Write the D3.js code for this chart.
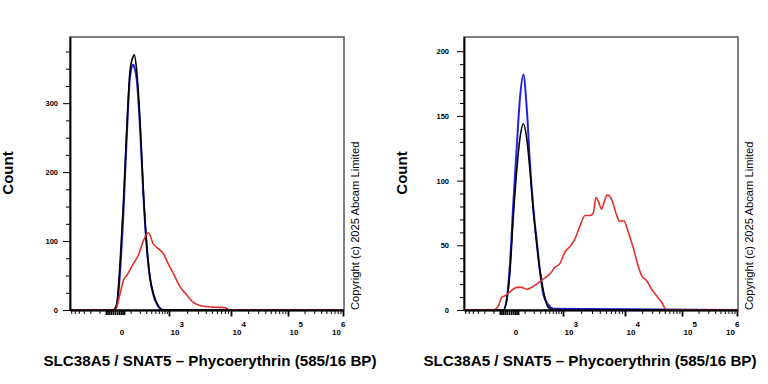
<!DOCTYPE html>
<html>
<head>
<meta charset="utf-8">
<script src="https://cdn.jsdelivr.net/npm/d3@7"></script>
<style>
  body { margin: 0; background: #fff; }
  svg { display: block; font-family: "Liberation Sans", Arial, sans-serif; }
</style>
</head>
<body>
<div id="chart"></div>
<script>
// fluorescence values (PE) and event counts

// left panel: unlabelled (black) and isotype (blue) share x positions
var leftPeakFl = [-640, -8, 8, 25, 45, 68, 95, 125, 136, 162, 204, 252, 308, 374, 450, 586, 757, 1000000];
var leftBlack  = [0, 0, 9, 67, 154, 260, 347, 368, 370, 347, 274, 173, 96, 47, 24, 6, 0, 0];
var leftBlue   = [0, 0, 5, 55, 140, 250, 338, 356, 352, 335, 265, 168, 92, 45, 22, 5, 0, 0];

// left panel: antibody stained (red)
var leftRedFl = [-640, 0, 25, 45, 68, 125, 181, 251, 339, 448, 584, 754, 967, 1183, 1530, 1971, 2523, 3233, 3886, 5600, 8045, 9640, 1000000];
var leftRed   = [0, 0, 23, 43, 50, 67, 79, 100, 112, 96, 89, 82, 67, 53, 34, 22, 11, 6.5, 5, 4, 3.5, 0, 0];

// right panel: unlabelled (black) and isotype (blue)
var rightPeakFl = [-640, -29, -11, 4.5, 21, 41, 63, 89, 119, 154, 194, 242, 296, 359, 473, 615, 1000000];
var rightBlack  = [0, 0, 7, 30, 72, 108, 133, 144, 133, 108, 77, 51, 30, 15, 2, 0, 0];
var rightBlue   = [0, 0, 8, 36, 82, 126, 164, 182, 157, 113, 79, 54, 30, 12, 4, 1, 0];

// right panel: antibody stained (red)
var rightRedFl = [-640, -101, -61, -38, -19.5, 4.5, 41, 76, 119, 174, 242, 359, 518, 671, 863, 1082, 1313, 1589, 1920, 2316,
                  2789, 3150, 3480, 3790, 4290, 4666, 5260, 5955, 6545, 7400, 8340, 9640, 10710, 12250, 14000, 16070, 19670,
                  24080, 29470, 36060, 44130, 53990, 1000000];
var rightRed   = [0, 0, 3, 10, 11, 14, 17.5, 17.5, 16, 17.5, 20, 24, 28, 33, 36, 45, 49, 55, 65, 73,
                  73, 75, 87, 84, 78, 83, 89, 87, 82, 73, 68.5, 69, 64, 56, 48, 38, 26.5,
                  22.6, 16, 11, 6, 0, 0];

// axis ticks
var xBreaks   = [-640, 0, 1000, 10000, 100000, 1000000];
var xMajor    = [1000, 10000, 100000, 1000000];
var xExponent = ['3', '4', '5', '6'];
var xZero     = [-50, -40, -30, -20, -10, 0, 10, 20, 30, 40, 50];
var xMinor    = [-600, -500, -400, -300, -200, -100,
                 100, 200, 300, 400, 500, 600, 700, 800, 900,
                 2000, 3000, 4000, 5000, 6000, 7000, 8000, 9000,
                 20000, 30000, 40000, 50000, 60000, 70000, 80000, 90000,
                 200000, 300000, 400000, 500000, 600000, 700000, 800000, 900000];

var leftYMajor  = [0, 100, 200, 300];
var leftYMinor  = [25, 50, 75, 125, 150, 175, 225, 250, 275, 325, 350, 375];
var rightYMajor = [0, 50, 100, 150, 200];
var rightYMinor = [10, 20, 30, 40, 60, 70, 80, 90, 110, 120, 130, 140, 160, 170, 180, 190];

var xTitle = 'SLC38A5 / SNAT5 \u2013 Phycoerythrin (585/16 BP)';
var copyright = 'Copyright (c) 2025 Abcam Limited';

var width = 768, height = 384;
var top_y = 37, bottom_y = 310;
var xOffsets = [0, 45, 99, 161, 218, 273];
var font_size_tick = 8;

var svg = d3.select('#chart')
    .append('svg')
        .attr('width', width)
        .attr('height', height);

function drawPanel(p) {
    var x = d3.scaleSymlog()
        .constant(100)
        .domain(xBreaks)
        .range(xOffsets.map(function(o) { return p.left + o; }));

    var y = d3.scaleLinear()
        .domain([0, p.yMax])
        .range([bottom_y, top_y]);

    // frame (top and right edges)
    svg.append('rect')
        .attr('x', p.left)
        .attr('y', top_y)
        .attr('width', p.plotW)
        .attr('height', bottom_y - top_y)
        .attr('fill', 'none')
        .attr('stroke', '#555')
        .attr('stroke-width', 1.5);

    // histogram lines: blue, black over it, red on top
    var line = function(xs) {
        return d3.line()
            .x(function(d, i) { return x(xs[i]); })
            .y(function(d) { return y(d); })
            .curve(d3.curveMonotoneX);
    };
    var series = [
        {xs: p.peakFl, ys: p.blue,  color: '#2424dc', w: 2},
        {xs: p.peakFl, ys: p.black, color: '#000',    w: 1.6},
        {xs: p.redFl,  ys: p.red,   color: '#e3302f', w: 1.6}
    ];
    series.forEach(function(s) {
        svg.append('path')
            .datum(s.ys)
            .attr('fill', 'none')
            .attr('stroke', s.color)
            .attr('stroke-width', s.w)
            .attr('stroke-linejoin', 'round')
            .attr('d', line(s.xs));
    });

    // Y axis
    var gy = svg.append('g')
        .attr('transform', 'translate(' + p.left + ',0)');
    gy.call(d3.axisLeft(y).tickValues(p.yMinor).tickSize(4).tickSizeOuter(0).tickFormat(''));
    gy.append('g')
        .call(d3.axisLeft(y).tickValues(p.yMajor).tickSize(7).tickSizeOuter(0).tickPadding(p.labelPad));
    gy.selectAll('path.domain').attr('stroke', '#000').attr('stroke-width', 1.5);
    gy.selectAll('.tick line').attr('stroke', '#000');
    gy.selectAll('.tick text')
        .attr('font-family', '"Liberation Sans", Arial, sans-serif')
        .attr('font-size', 7.5)
        .attr('font-weight', 'bold')
        .attr('fill', '#000');

    // X axis
    var gx = svg.append('g')
        .attr('transform', 'translate(0,' + bottom_y + ')');
    gx.call(d3.axisBottom(x).tickValues(xMinor).tickSize(4).tickSizeOuter(0).tickFormat(''));
    gx.append('g')
        .call(d3.axisBottom(x).tickValues(xZero).tickSize(5).tickSizeOuter(0).tickFormat(''))
        .selectAll('.tick line').attr('stroke-width', 1.6);
    gx.append('g')
        .call(d3.axisBottom(x).tickValues(xMajor).tickSize(6.5).tickSizeOuter(0).tickFormat(''))
        .selectAll('.tick line').attr('stroke-width', 1.8);
    gx.selectAll('path.domain').attr('stroke', '#000').attr('stroke-width', 1.5);

    // X tick labels: "0" and 10 with a raised exponent (last one pulled inside)
    var labs = svg.append('g')
        .attr('font-size', font_size_tick)
        .attr('font-weight', 'bold')
        .attr('fill', '#000');
    var shift = function(i) { return i === xMajor.length - 1 ? -11 : 1.5; };
    labs.append('text')
        .attr('x', x(0) + 7)
        .attr('y', 334.5)
        .attr('text-anchor', 'middle')
        .text('0');
    labs.selectAll('.xbase')
        .data(xMajor)
        .enter()
        .append('text')
        .attr('class', 'xbase')
        .attr('x', function(d, i) { return x(d) + shift(i); })
        .attr('y', 334.5)
        .text('10');
    labs.selectAll('.xexp')
        .data(xMajor)
        .enter()
        .append('text')
        .attr('class', 'xexp')
        .attr('x', function(d, i) { return x(d) + shift(i) + 9; })
        .attr('y', 327)
        .text(function(d, i) { return xExponent[i]; });

    // titles
    svg.append('text')
        .attr('transform', 'translate(' + p.countX + ',173) rotate(-90)')
        .attr('text-anchor', 'middle')
        .attr('font-size', 15)
        .attr('font-weight', 'bold')
        .text('Count');

    svg.append('text')
        .attr('x', p.titleX)
        .attr('y', 366)
        .attr('text-anchor', 'middle')
        .attr('font-size', 15.2)
        .attr('font-weight', 'bold')
        .text(xTitle);

    svg.append('text')
        .attr('transform', 'translate(' + p.copyX + ',310) rotate(-90)')
        .attr('font-size', 11.2)
        .text(copyright);
}

drawPanel({
    left: 70, plotW: 274, yMax: 396,
    yMajor: leftYMajor, yMinor: leftYMinor, labelPad: 5,
    peakFl: leftPeakFl, black: leftBlack, blue: leftBlue,
    redFl: leftRedFl, red: leftRed,
    countX: 13, titleX: 210, copyX: 358.5
});

drawPanel({
    left: 464, plotW: 274, yMax: 211,
    yMajor: rightYMajor, yMinor: rightYMinor, labelPad: 8,
    peakFl: rightPeakFl, black: rightBlack, blue: rightBlue,
    redFl: rightRedFl, red: rightRed,
    countX: 407, titleX: 590, copyX: 752.5
});
</script>
</body>
</html>
